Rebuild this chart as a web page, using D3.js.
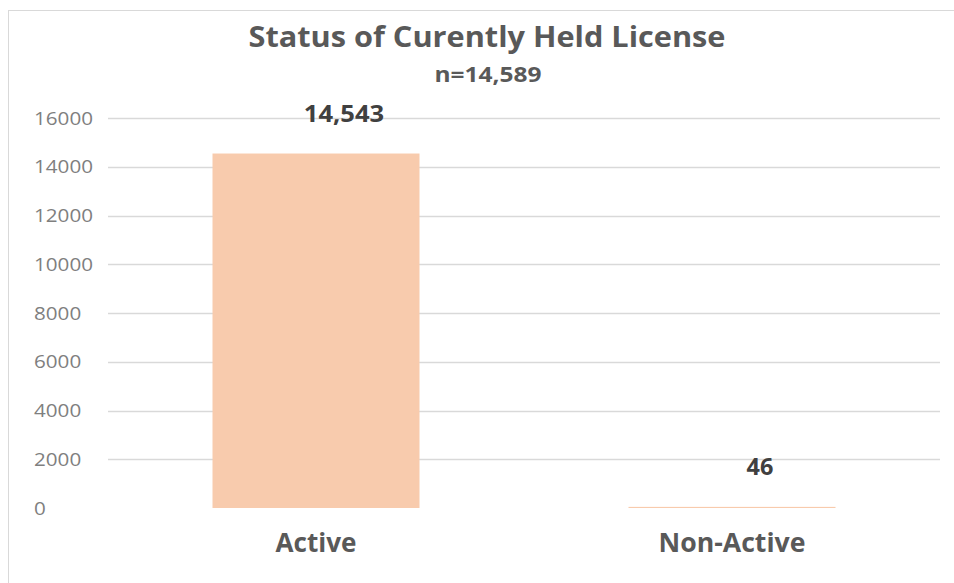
<!DOCTYPE html>
<html><head><meta charset="utf-8">
<script src="https://cdn.jsdelivr.net/npm/d3@7"></script>
<style>body{margin:0;background:#fff}svg{display:block}</style>
</head><body>
<svg id="c" width="954" height="583"></svg>
<script>
const categories = ["Active", "Non-Active"];
const values = [14543, 46];
const valueLabels = ["14,543", "46"];
const yTicks = [0, 2000, 4000, 6000, 8000, 10000, 12000, 14000, 16000];
const titleText = "Status of Curently Held License";
const subtitleText = "n=14,589";

const svg = d3.select("#c");
svg.append("rect").attr("x", 8.5).attr("y", 10.5).attr("width", 960).attr("height", 600)
  .attr("fill", "#fff").attr("stroke", "#d9d9d9");

const x = d3.scaleBand().domain(categories).range([108, 940]).paddingInner(0).paddingOuter(0);
const y = d3.scaleLinear().domain([0, 16000]).range([508, 118]);
const barW = 207;

svg.append("g").selectAll("line").data(yTicks.filter(d => d > 0)).join("line")
  .attr("x1", 108).attr("x2", 940)
  .attr("y1", d => Math.round(y(d)) + 0.5).attr("y2", d => Math.round(y(d)) + 0.5)
  .attr("stroke", "#d9d9d9").attr("stroke-width", 1.5);

svg.append("g").selectAll("text").data(yTicks).join("text")
  .attr("x", 34).attr("y", d => y(d) + 6.5)
  .attr("font-family", "'Open Sans', sans-serif").attr("font-size", 17.5)
  .attr("fill", "#7f7f7f")
  .attr("textLength", d => String(d).length * 11.8).attr("lengthAdjust", "spacingAndGlyphs")
  .text(d => d);

svg.append("g").selectAll("rect").data(values).join("rect")
  .attr("x", (d, i) => x(categories[i]) + x.bandwidth() / 2 - barW / 2)
  .attr("y", d => y(d)).attr("width", barW)
  .attr("height", d => Math.max(1, y(0) - y(d)))
  .attr("fill", "#f8cbad");

svg.append("g").selectAll("text").data(values).join("text")
  .attr("x", (d, i) => x(categories[i]) + x.bandwidth() / 2 + 28)
  .attr("y", d => y(d) - 32)
  .attr("text-anchor", "middle")
  .attr("font-family", "'Open Sans', sans-serif").attr("font-weight", "bold")
  .attr("font-size", 23).attr("fill", "#404040")
  .attr("textLength", (d, i) => valueLabels[i].length * 13.4).attr("lengthAdjust", "spacingAndGlyphs")
  .text((d, i) => valueLabels[i]);

const catW = [81, 147];
svg.append("g").selectAll("text").data(categories).join("text")
  .attr("x", d => x(d) + x.bandwidth() / 2).attr("y", 552)
  .attr("text-anchor", "middle")
  .attr("font-family", "'Open Sans', sans-serif").attr("font-weight", "bold")
  .attr("font-size", 27).attr("fill", "#595959")
  .attr("textLength", (d, i) => catW[i]).attr("lengthAdjust", "spacingAndGlyphs")
  .text(d => d);

svg.append("text").attr("x", 487).attr("y", 47).attr("text-anchor", "middle")
  .attr("font-family", "'Open Sans', sans-serif").attr("font-weight", "bold")
  .attr("font-size", 29).attr("fill", "#595959")
  .attr("textLength", 477).attr("lengthAdjust", "spacingAndGlyphs")
  .text(titleText);

svg.append("text").attr("x", 488).attr("y", 82).attr("text-anchor", "middle")
  .attr("font-family", "'Open Sans', sans-serif").attr("font-weight", "bold")
  .attr("font-size", 22).attr("fill", "#595959")
  .attr("textLength", 107).attr("lengthAdjust", "spacingAndGlyphs")
  .text(subtitleText);
</script>
</body></html>
